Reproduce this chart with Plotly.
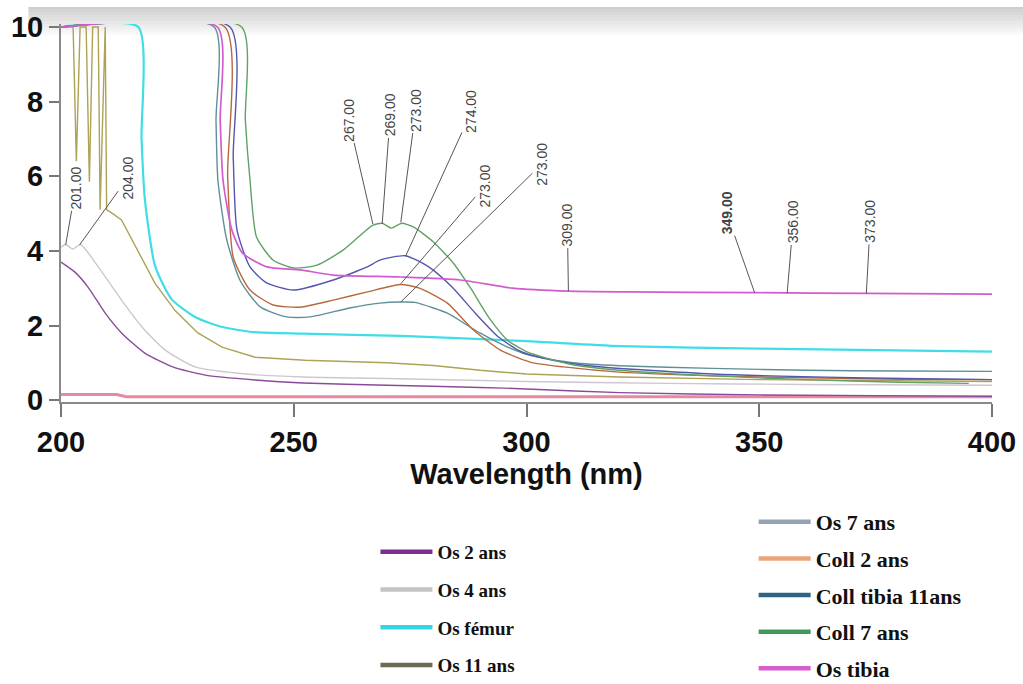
import plotly.graph_objects as go

# ---------------- data (wavelength nm, absorbance) ----------------
os2_wl = [200, 203, 205.8, 209.5, 213, 218, 224, 231, 241.7, 252, 270, 290, 300, 320, 350, 400]
os2_abs = [3.7, 3.43, 3.03, 2.33, 1.8, 1.26, 0.89, 0.67, 0.54, 0.46, 0.4, 0.34, 0.3, 0.2, 0.14, 0.1]

os4_wl = [200, 201, 202.5, 204.2, 208, 213, 217.4, 222.4, 228.8, 238, 252, 270, 300, 330, 360, 400]
os4_abs = [4.1, 4.17, 4.05, 4.17, 3.57, 2.68, 1.96, 1.34, 0.89, 0.72, 0.62, 0.58, 0.5, 0.45, 0.42, 0.4]

femur_wl = [200, 216.6, 217.3, 218, 220.2, 223.8, 228.8, 234.6, 241.7, 252, 273, 300, 320, 350, 400]
femur_abs = [10, 10, 7.0, 5.4, 3.6, 2.7, 2.23, 1.96, 1.82, 1.78, 1.72, 1.58, 1.45, 1.38, 1.3]

os11_wl = [200, 202.6, 203.3, 204.1, 205.4, 206.1, 206.8, 208.0, 208.4, 209.5, 209.8, 210.5, 213, 216.5,
           220.2, 224.5, 229.4, 234.6, 241.7, 252.4, 270, 280, 290, 300, 320, 350, 400]
os11_abs = [10, 10, 6.4, 10, 10, 5.85, 10, 10, 5.1, 10, 5.1, 5.05, 4.83, 4.0,
            3.13, 2.4, 1.8, 1.42, 1.15, 1.07, 1.0, 0.93, 0.8, 0.7, 0.62, 0.55, 0.5]

os7_wl = [200, 232.9, 233.3, 233.7, 235.6, 238.5, 242.8, 248.5, 253.5, 262, 268.5, 273, 276, 280, 283,
          290, 295.8, 300.8, 310, 320, 340, 360, 380, 400]
os7_abs = [10, 10, 7.5, 5.9, 4.3, 3.2, 2.5, 2.23, 2.23, 2.47, 2.6, 2.63, 2.62, 2.47, 2.33,
           1.8, 1.43, 1.2, 1.0, 0.92, 0.85, 0.8, 0.78, 0.77]

coll2_wl = [200, 235.2, 235.8, 237, 240.6, 245.6, 251.4, 258.5, 265.8, 273, 277, 283, 288.6, 294.4,
            300.8, 308, 320, 340, 360, 380, 400]
coll2_abs = [10, 10, 6.0, 3.83, 2.95, 2.55, 2.49, 2.68, 2.9, 3.1, 3.0, 2.6, 1.88, 1.34,
             1.02, 0.89, 0.75, 0.65, 0.6, 0.56, 0.55]

colltib_wl = [200, 236.3, 237, 237.8, 240.6, 244.2, 249.9, 258.5, 265.8, 268.5, 274, 279, 284, 289, 294,
              299, 305.7, 315, 340, 370, 400]
colltib_abs = [10, 10, 6.5, 4.56, 3.57, 3.14, 2.95, 3.22, 3.57, 3.75, 3.87, 3.57, 3.03, 2.33, 1.69,
               1.29, 1.07, 0.9, 0.7, 0.6, 0.55]

coll7_wl = [200, 238.8, 239.6, 240.6, 242, 245.6, 250, 255, 260.6, 267, 269, 271, 273.2, 275.7, 280,
            284.3, 288, 292, 296, 300, 305, 310, 320, 340, 360, 380, 395]
coll7_abs = [10, 10, 7.5, 5.9, 4.37, 3.75, 3.54, 3.62, 4.02, 4.69, 4.74, 4.61, 4.74, 4.64, 4.24,
             3.67, 3.0, 2.2, 1.6, 1.3, 1.1, 0.95, 0.8, 0.65, 0.55, 0.48, 0.45]

ostib_wl = [200, 233.6, 234.2, 234.8, 236.7, 239, 244.2, 251.4, 258.5, 272.9, 285.8, 297, 309, 322,
            349, 373, 400]
ostib_abs = [10, 10, 7.5, 5.9, 4.56, 3.94, 3.57, 3.49, 3.35, 3.3, 3.22, 3.0, 2.92, 2.9,
             2.88, 2.86, 2.84]

base_wl = [200, 212, 214, 400]
base_abs = [0.15, 0.15, 0.09, 0.09]

series_names = ["Os 2 ans", "Os 4 ans", "Os fémur", "Os 11 ans",
                "Os 7 ans", "Coll 2 ans", "Coll tibia 11ans", "Coll 7 ans", "Os tibia"]

# peak labels: (wavelength, absorbance at marker)
peak_wl = [201, 204, 267, 269, 273, 274, 273, 273, 309, 349, 356, 373]
peak_abs = [4.16, 4.16, 4.72, 4.72, 4.77, 3.85, 3.12, 2.63, 2.92, 2.88, 2.87, 2.86]
peak_text = ["201.00", "204.00", "267.00", "269.00", "273.00", "274.00", "273.00", "273.00",
             "309.00", "349.00", "356.00", "373.00"]

x_ticks = [200, 250, 300, 350, 400]
y_ticks = [0, 2, 4, 6, 8, 10]

# ---------------- styles ----------------
series = [
    (os2_wl, os2_abs, "#8a4a9c", "#7d2f8f", "legend"),
    (os4_wl, os4_abs, "#cfc6d0", "#c4c4c8", "legend"),
    (femur_wl, femur_abs, "#3fdde6", "#33d6e0", "legend"),
    (os11_wl, os11_abs, "#ada256", "#6b6a52", "legend"),
    (os7_wl, os7_abs, "#5f9097", "#94a4b4", "legend2"),
    (coll2_wl, coll2_abs, "#b8683e", "#eaa577", "legend2"),
    (colltib_wl, colltib_abs, "#5457b0", "#2e6383", "legend2"),
    (coll7_wl, coll7_abs, "#5fa266", "#3f9a5a", "legend2"),
    (ostib_wl, ostib_abs, "#d25ccf", "#d65fcf", "legend2"),
]
plot_widths = [1.4, 1.4, 2.2, 1.4, 1.4, 1.4, 1.4, 1.4, 1.7]

fig = go.Figure()

fig.add_trace(go.Scatter(x=base_wl, y=base_abs, mode="lines", showlegend=False,
                         line=dict(color="#e58aa0", width=3), hoverinfo="skip"))

for i, (name, (wl, ab, pcol, lcol, leg)) in enumerate(zip(series_names, series)):
    shape = "linear" if name == "Os 11 ans" else "spline"
    fig.add_trace(go.Scatter(x=wl, y=ab, mode="lines", name=name, legendgroup=name,
                             showlegend=False, legend=leg,
                             line=dict(color=pcol, width=plot_widths[i], shape=shape, smoothing=0.6)))
    # legend entry (thick swatch line, same group)
    fig.add_trace(go.Scatter(x=[None], y=[None], mode="lines", name=name, legendgroup=name,
                             showlegend=True, legend=leg,
                             line=dict(color=lcol, width=4.5)))

# peak annotations
offsets = [(10, -57), (48, -67), (-24, -104), (8, -109), (15, -112), (66, -145),
           (84, -98), (141, -138), (-1, -66), (-28, -80), (6, -71), (4, -72)]
for wl, ab, t, (ax, ay) in zip(peak_wl, peak_abs, peak_text, offsets):
    fig.add_annotation(x=wl, y=ab, text=("<b>%s</b>" % t) if t == "349.00" else t,
                       textangle=-90, showarrow=True, arrowhead=0, arrowwidth=1,
                       arrowcolor="#555555", ax=ax, ay=ay, standoff=0,
                       font=dict(family="Liberation Sans, Arial", size=14, color="#444444"))

# top grey gradient band
n = 10
for k in range(n):
    y0 = 1.045 - k * 0.0075
    fig.add_shape(type="rect", xref="paper", yref="paper", x0=-0.035, x1=1.04,
                  y0=y0 - 0.0075, y1=y0, line=dict(width=0),
                  fillcolor="rgba(190,190,190,%.3f)" % (0.75 * (1 - k / n)), layer="below")

axis_font = dict(family="Liberation Sans, Arial", size=29, color="#111111")

fig.update_layout(
    width=1023, height=684,
    margin=dict(l=61, r=31, t=24, b=282, autoexpand=False),
    paper_bgcolor="white", plot_bgcolor="rgba(0,0,0,0)",
    xaxis=dict(range=[200, 400], tickvals=x_ticks, ticktext=["<b>%d</b>" % v for v in x_ticks],
               ticks="outside", ticklen=13, tickwidth=1.5, tickcolor="#777777",
               showline=True, linecolor="#8a8a8a", linewidth=2, showgrid=False, zeroline=False,
               tickfont=axis_font, ticklabelstandoff=0, automargin=False,
               ticklabeloverflow="allow",
               title=dict(text="<b>Wavelength (nm)</b>", font=axis_font, standoff=3)),
    yaxis=dict(range=[-0.05, 10.08], tickvals=y_ticks, ticktext=["<b>%d</b>" % v for v in y_ticks],
               ticks="outside", ticklen=10, tickwidth=1.5, tickcolor="#777777",
               showline=True, linecolor="#8a8a8a", linewidth=2, showgrid=False, zeroline=False,
               tickfont=axis_font, ticklabelstandoff=0, automargin=False,
               ticklabeloverflow="allow"),
    legend=dict(x=0.367, y=0.2208, xref="container", yref="container",
                xanchor="left", yanchor="top", tracegroupgap=10,
                itemwidth=52, bgcolor="rgba(0,0,0,0)",
                font=dict(family="Liberation Serif, Times New Roman", size=19, color="#111111",
                          weight="bold")),
    legend2=dict(x=0.7367, y=0.2675, xref="container", yref="container",
                 xanchor="left", yanchor="top", tracegroupgap=5,
                 itemwidth=52, bgcolor="rgba(0,0,0,0)",
                 font=dict(family="Liberation Serif, Times New Roman", size=22, color="#111111",
                           weight="bold")),
    showlegend=True,
)

fig.write_html("out.html", config={"displayModeBar": False},
               post_script="document.body.style.margin='0';document.body.style.overflow='hidden';")
